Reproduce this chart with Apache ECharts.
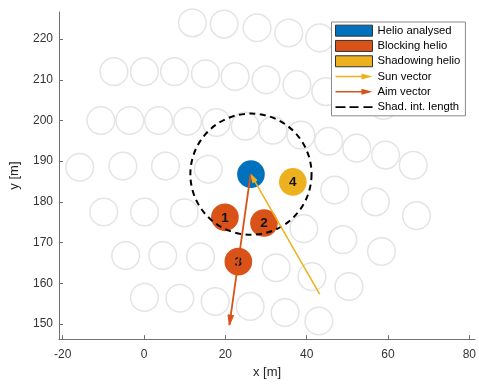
<!DOCTYPE html>
<html><head><meta charset="utf-8">
<script src="https://cdn.jsdelivr.net/npm/echarts@6/dist/echarts.min.js"></script>
<style>html,body{margin:0;padding:0;background:#fff}#c{width:479px;height:384px}</style>
</head><body><div id="c"></div>
<script>
// Heliostat field (gray outlines)
const fieldX = [11.9, 19.7, 27.8, 35.6, 43.2,
  -7.4, 0.1, 7.5, 15.1, 22.4, 30.0, 37.6, 44.7, 58.9,
  -10.6, -3.5, 3.6, 10.7, 17.8, 24.9, 31.7, 38.6, 45.4, 52.3, 59.4, 66.2,
  -15.8, -5.2, 5.3, 15.8, 46.9, 56.9, 67.0,
  -9.9, 0.1, 9.9, 39.3, 48.9, 58.4,
  -4.5, 4.6, 13.9, 32.5, 41.3, 50.4,
  0.1, 8.8, 17.5, 26.1, 34.7, 43.0];
const fieldY = [224.0, 223.7, 222.8, 221.5, 220.3,
  212.0, 212.0, 212.0, 211.5, 210.8, 210.0, 208.8, 207.1, 203.7,
  200.0, 200.0, 200.0, 199.8, 199.5, 198.6, 197.6, 196.4, 194.9, 193.2, 191.5, 189.0,
  188.5, 188.8, 188.8, 188.0, 182.9, 180.0, 176.6,
  177.5, 177.5, 177.3, 173.4, 170.7, 167.8,
  166.8, 166.8, 166.5, 163.8, 161.6, 159.2,
  156.5, 156.3, 155.5, 154.3, 152.8, 150.7];
const analysedX = [26.3];
const analysedY = [186.8];
const blockingX = [19.9, 29.5, 23.2];
const blockingY = [176.2, 174.8, 165.3];
const blockingLabels = ['1', '2', '3'];
const shadowingX = [36.6];
const shadowingY = [184.9];
const shadowingLabels = ['4'];
const sunVector = [43.2, 157.3, 26.3, 186.7];   // x0, y0, x1, y1 (head at x1,y1)
const aimVector = [26.2, 186.7, 21.0, 149.7];
const shadowRadius = 14.9;
const helioRadius = 3.4;
const xTicks = [-20, 0, 20, 40, 60, 80];
const yTicks = [150, 160, 170, 180, 190, 200, 210, 220];
const legendNames = ['Helio analysed', 'Blocking helio', 'Shadowing helio', 'Sun vector', 'Aim vector', 'Shad. int. length'];

const C_BLUE = '#0072BD', C_ORANGE = '#D95319', C_YELLOW = '#EDB120';
const FONT = "'Liberation Sans', Arial, Helvetica, sans-serif";

function pts(xs, ys, labels) {
  return xs.map((x, i) => [x, ys[i], labels ? labels[i] : '']);
}

function circleRender(fill, stroke, lw) {
  return function (params, api) {
    const c = api.coord([api.value(0), api.value(1)]);
    const r = api.size([helioRadius, 0])[0];
    const children = [{
      type: 'circle',
      shape: { cx: c[0], cy: c[1], r: r },
      style: { fill: fill, stroke: stroke, lineWidth: lw }
    }];
    const lab = api.value(2);
    if (lab) {
      children.push({
        type: 'text',
        style: { text: String(lab), x: c[0], y: c[1] + 0.5, align: 'center', verticalAlign: 'middle',
          font: 'bold 13.5px ' + FONT, fill: '#111' }
      });
    }
    return { type: 'group', children: children };
  };
}

function arrowRender(color, headLen, headHalf, lw) {
  return function (params, api) {
    const p0 = api.coord([api.value(0), api.value(1)]);
    const p1 = api.coord([api.value(2), api.value(3)]);
    const dx = p1[0] - p0[0], dy = p1[1] - p0[1];
    const L = Math.sqrt(dx * dx + dy * dy);
    const ux = dx / L, uy = dy / L, nx = -uy, ny = ux;
    const bx = p1[0] - ux * headLen, by = p1[1] - uy * headLen;
    return {
      type: 'group',
      children: [
        { type: 'line', shape: { x1: p0[0], y1: p0[1], x2: p1[0], y2: p1[1] },
          style: { stroke: color, lineWidth: lw } },
        { type: 'polygon', shape: { points: [[bx + nx * headHalf, by + ny * headHalf], [p1[0], p1[1]], [bx - nx * headHalf, by - ny * headHalf]] },
          style: { fill: color, stroke: color, lineWidth: 1 } }
      ]
    };
  };
}

const chart = echarts.init(document.getElementById('c'), null, { renderer: 'canvas' });

const arrowIcon = 'path://M0,0M0,4.75L26,4.75L26,2.5L37,5.5L26,8.5L26,6.25L0,6.25ZM37,11';
const dashIcon = 'path://M0,0M0,4.6L10,4.6L10,6.4L0,6.4ZM14,4.6L23,4.6L23,6.4L14,6.4ZM28,4.6L37,4.6L37,6.4L28,6.4ZM37,11';

chart.setOption({
  animation: false,
  backgroundColor: '#fff',
  grid: { left: 58, right: 2, top: 12, bottom: 43, containLabel: false },
  xAxis: {
    type: 'value', min: -20.9, max: 81.4,
    name: 'x [m]', nameLocation: 'middle', nameGap: 21,
    nameTextStyle: { color: '#262626', fontSize: 13, fontFamily: FONT },
    axisLine: { show: true, onZero: false, lineStyle: { color: '#707070', width: 1 } },
    axisTick: { show: true, inside: true, length: 4, customValues: xTicks, lineStyle: { color: '#707070' } },
    axisLabel: { customValues: xTicks, color: '#333', fontSize: 12, fontFamily: FONT, margin: 10 },
    splitLine: { show: false }
  },
  yAxis: {
    type: 'value', min: 146.26, max: 226.67,
    name: 'y [m]', nameLocation: 'middle', nameGap: 38, nameRotate: 90,
    nameTextStyle: { color: '#262626', fontSize: 13, fontFamily: FONT },
    axisLine: { show: true, onZero: false, lineStyle: { color: '#707070', width: 1 } },
    axisTick: { show: true, inside: true, length: 4, customValues: yTicks, lineStyle: { color: '#707070' } },
    axisLabel: { customValues: yTicks, color: '#333', fontSize: 12, fontFamily: FONT, margin: 6 },
    splitLine: { show: false }
  },
  legend: {
    show: true, orient: 'vertical', left: 331.5, top: 22,
    selectedMode: false,
    backgroundColor: '#fff', borderColor: '#8a8a8a', borderWidth: 1,
    padding: [1, 5, 1, 3.5], itemGap: 0, itemWidth: 37, itemHeight: 11,
    textStyle: { color: '#000', fontSize: 11.3, fontFamily: FONT, lineHeight: 15.3 },
    data: [
      { name: legendNames[0], icon: 'rect', itemStyle: { color: C_BLUE, borderColor: '#333', borderWidth: 1 } },
      { name: legendNames[1], icon: 'rect', itemStyle: { color: C_ORANGE, borderColor: '#333', borderWidth: 1 } },
      { name: legendNames[2], icon: 'rect', itemStyle: { color: C_YELLOW, borderColor: '#333', borderWidth: 1 } },
      { name: legendNames[3], icon: arrowIcon, itemStyle: { color: C_YELLOW, borderWidth: 0 } },
      { name: legendNames[4], icon: arrowIcon, itemStyle: { color: C_ORANGE, borderWidth: 0 } },
      { name: legendNames[5], icon: dashIcon, itemStyle: { color: '#000', borderWidth: 0 } }
    ]
  },
  series: [
    { type: 'custom', name: 'field', z: 1, silent: true, encode: { x: 0, y: 1 },
      renderItem: circleRender(null, '#e4e4e4', 1.5), data: pts(fieldX, fieldY) },
    { type: 'custom', name: legendNames[0], z: 2, itemStyle: { color: C_BLUE }, encode: { x: 0, y: 1 },
      renderItem: circleRender(C_BLUE, null, 0), data: pts(analysedX, analysedY) },
    { type: 'custom', name: legendNames[1], z: 2, itemStyle: { color: C_ORANGE }, encode: { x: 0, y: 1 },
      renderItem: circleRender(C_ORANGE, null, 0), data: pts(blockingX, blockingY, blockingLabels) },
    { type: 'custom', name: legendNames[2], z: 2, itemStyle: { color: C_YELLOW }, encode: { x: 0, y: 1 },
      renderItem: circleRender(C_YELLOW, null, 0), data: pts(shadowingX, shadowingY, shadowingLabels) },
    { type: 'custom', name: legendNames[5], z: 3, itemStyle: { color: '#000' }, encode: { x: 0, y: 1 },
      renderItem: function (params, api) {
        const c = api.coord([api.value(0), api.value(1)]);
        const r = api.size([api.value(2), 0])[0];
        return { type: 'circle', shape: { cx: c[0], cy: c[1], r: r },
          style: { fill: null, stroke: '#000', lineWidth: 2, lineDash: [6, 4.5] } };
      },
      data: [[analysedX[0], analysedY[0], shadowRadius]] },
    { type: 'custom', name: legendNames[3], z: 4, itemStyle: { color: C_YELLOW }, encode: { x: [0, 2], y: [1, 3] },
      renderItem: arrowRender(C_YELLOW, 8, 2.5, 1.5), data: [sunVector] },
    { type: 'custom', name: legendNames[4], z: 4, itemStyle: { color: C_ORANGE }, encode: { x: [0, 2], y: [1, 3] },
      renderItem: arrowRender(C_ORANGE, 10, 2.8, 1.8), data: [aimVector] }
  ]
});
</script>
</body></html>
